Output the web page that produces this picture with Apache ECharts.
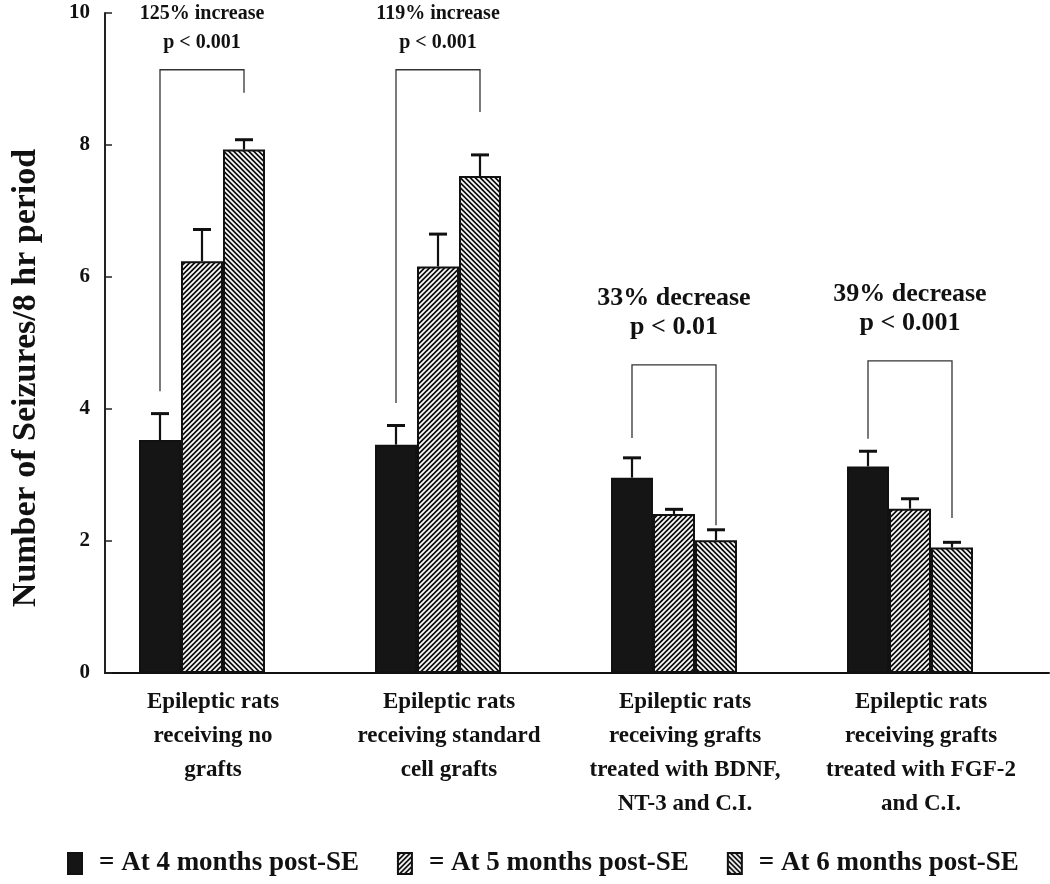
<!DOCTYPE html>
<html><head><meta charset="utf-8">
<script src="https://cdn.jsdelivr.net/npm/echarts@6/dist/echarts.min.js"></script>
<style>html,body{margin:0;padding:0;background:#fff}#c{width:1050px;height:884px}</style>
</head><body><div id="c"></div>
<script>
// ---- data ----
const categories = [
  'Epileptic rats\nreceiving no\ngrafts',
  'Epileptic rats\nreceiving standard\ncell grafts',
  'Epileptic rats\nreceiving grafts\ntreated with BDNF,\nNT-3 and C.I.',
  'Epileptic rats\nreceiving grafts\ntreated with FGF-2\nand C.I.'
];
const seriesNames = ['= At 4 months post-SE', '= At 5 months post-SE', '= At 6 months post-SE'];
const mean4 = [3.53, 3.46, 2.96, 3.13];
const mean5 = [6.24, 6.16, 2.41, 2.49];
const mean6 = [7.93, 7.53, 2.01, 1.90];
const se4 = [0.40, 0.29, 0.30, 0.23];
const se5 = [0.48, 0.49, 0.07, 0.15];
const se6 = [0.15, 0.32, 0.16, 0.08];
const yTicks = [0, 2, 4, 6, 8, 10];
const annotations = ['125% increase\np < 0.001', '119% increase\np < 0.001', '33% decrease\np < 0.01', '39% decrease\np < 0.001'];
const bracketLeft = [4.27, 4.09, 3.56, 3.55];
const bracketTop = [9.14, 9.14, 4.67, 4.73];
const bracketRight = [8.79, 8.50, 2.24, 2.35];
const annotationAt = [9.77, 9.77, 5.46, 5.52];

// ---- styling ----
const FONT = "'Liberation Serif', 'Times New Roman', serif";
const BAR_W = 42;
const slotOffset = i => (i - 1.5) * BAR_W;

function hatch(dir) {
  const s = 5;
  const c = document.createElement('canvas');
  c.width = s; c.height = s;
  const g = c.getContext('2d');
  g.fillStyle = '#111'; g.fillRect(0, 0, s, s);
  g.strokeStyle = '#fff'; g.lineWidth = 1.7;
  g.beginPath();
  if (dir > 0) {
    for (let k = -1; k <= 1; k++) { g.moveTo(k * s - 1, s + 1); g.lineTo(k * s + s + 1, -1); }
  } else {
    for (let k = -1; k <= 1; k++) { g.moveTo(k * s - 1, -1); g.lineTo(k * s + s + 1, s + 1); }
  }
  g.stroke();
  return { image: c, repeat: 'repeat' };
}
const fills = ['#151515', hatch(1), hatch(-1)];
const means = [mean4, mean5, mean6];
const ses = [se4, se5, se6];

const barSeries = means.map((m, i) => ({
  name: seriesNames[i], type: 'bar', data: m, barWidth: BAR_W, barGap: 0,
  itemStyle: { color: fills[i], borderColor: '#111', borderWidth: 2 },
  silent: true, z: 2
}));
// empty slot after each group (keeps the three bars left of the band centre, as in the original)
barSeries.push({ name: 'gap', type: 'bar', data: categories.map(() => '-'), barWidth: BAR_W, barGap: 0, silent: true });

const errData = [];
ses.forEach((arr, s) => arr.forEach((e, c) => errData.push([c, s, means[s][c], e])));

const bracketData = categories.map((_, c) => [c, bracketLeft[c], bracketTop[c], bracketRight[c], annotationAt[c]]);

const chart = echarts.init(document.getElementById('c'), null, { renderer: 'canvas' });
chart.setOption({
  animation: false,
  backgroundColor: '#fff',
  grid: { left: 105, right: 1, top: 13, bottom: 211, containLabel: false, outerBoundsMode: 'none' },
  legend: {
    data: seriesNames, left: 67, top: 850, padding: 0, icon: 'rect', itemWidth: 14, itemHeight: 21, itemGap: 38,
    textStyle: { fontFamily: FONT, fontWeight: 'bold', fontSize: 27, color: '#111', padding: [0, 0, 0, 12] }
  },
  xAxis: {
    type: 'category', data: categories,
    axisLine: { lineStyle: { color: '#111', width: 2 } },
    axisTick: { show: false },
    axisLabel: { interval: 0, margin: 12, fontFamily: FONT, fontWeight: 'bold', fontSize: 23, lineHeight: 34, color: '#111', padding: [0, 20, 0, 0] }
  },
  yAxis: {
    type: 'value', min: yTicks[0], max: yTicks[yTicks.length - 1], interval: 2,
    name: 'Number of Seizures/8 hr period', nameLocation: 'middle', nameGap: 62,
    nameTextStyle: { fontFamily: FONT, fontWeight: 'bold', fontSize: 34, color: '#111', padding: [0, 70, 0, 0] },
    axisLine: { show: true, lineStyle: { color: '#222', width: 2 } },
    axisTick: { show: true, inside: true, length: 7, lineStyle: { color: '#222', width: 1.5 } },
    splitLine: { show: false },
    axisLabel: { margin: 15, fontFamily: FONT, fontWeight: 'bold', fontSize: 21, color: '#111' }
  },
  series: barSeries.concat([
    {
      type: 'custom', name: 'err', data: errData, encode: { x: 0, y: 2 }, z: 5, silent: true, clip: false,
      renderItem(params, api) {
        const c = api.value(0), s = api.value(1), m = api.value(2), e = api.value(3);
        const b = api.coord([c, m]);
        const t = api.coord([c, m + e]);
        const x = b[0] + slotOffset(s);
        return { type: 'group', children: [
          { type: 'line', shape: { x1: x, y1: b[1], x2: x, y2: t[1] }, style: { stroke: '#111', lineWidth: 2.2 } },
          { type: 'line', shape: { x1: x - 9, y1: t[1], x2: x + 9, y2: t[1] }, style: { stroke: '#111', lineWidth: 3 } }
        ] };
      }
    },
    {
      type: 'custom', name: 'brackets', data: bracketData, encode: { x: 0, y: 2 }, z: 6, silent: true, clip: false,
      renderItem(params, api) {
        const c = api.value(0);
        const pL = api.coord([c, api.value(1)]);
        const pT = api.coord([c, api.value(2)]);
        const pR = api.coord([c, api.value(3)]);
        const pA = api.coord([c, api.value(4)]);
        const xl = pL[0] + slotOffset(0), xr = pL[0] + slotOffset(2), xc = pL[0] + slotOffset(1);
        const big = params.dataIndex >= 2;
        return { type: 'group', children: [
          { type: 'polyline', shape: { points: [[xl, pL[1]], [xl, pT[1]], [xr, pT[1]], [xr, pR[1]]] },
            style: { stroke: '#333', lineWidth: 1.3, fill: null } },
          { type: 'text', x: xc, y: pA[1], style: {
              text: annotations[params.dataIndex], align: 'center', verticalAlign: 'middle',
              font: 'bold ' + (big ? 26 : 20) + 'px ' + FONT, lineHeight: 29, fill: '#111' } }
        ] };
      }
    }
  ])
});
</script></body></html>
